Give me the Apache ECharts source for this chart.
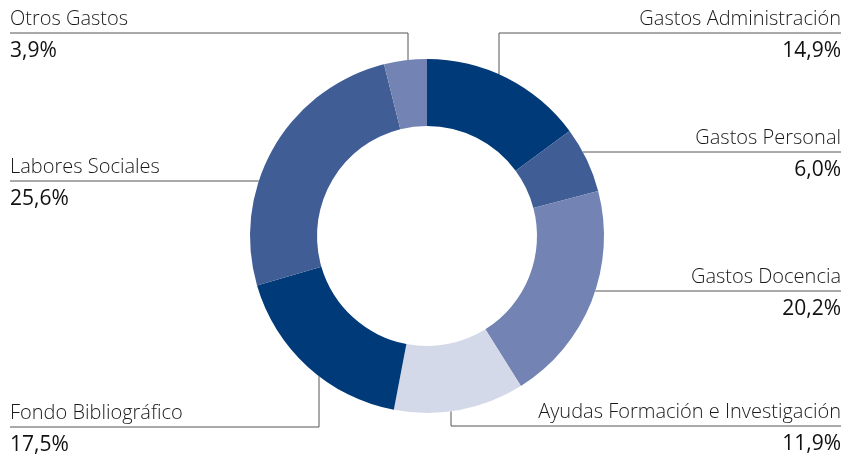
<!DOCTYPE html>
<html>
<head>
<meta charset="utf-8">
<script src="https://cdn.jsdelivr.net/npm/echarts@6/dist/echarts.min.js"></script>
<style>
  html, body { margin: 0; padding: 0; background: #fff; }
  #chart { width: 858px; height: 454px; }
</style>
</head>
<body>
<div id="chart"></div>
<script>
// Budget breakdown (percent of total), clockwise from 12 o'clock
const categories = [
  'Gastos Administración',
  'Gastos Personal',
  'Gastos Docencia',
  'Ayudas Formación e Investigación',
  'Fondo Bibliográfico',
  'Labores Sociales',
  'Otros Gastos'
];
const shares = [14.9, 6.0, 20.2, 11.9, 17.5, 25.6, 3.9];

// Slice fills
const palette = ['#003a78', '#405e95', '#7383b4', '#d4d9ea', '#003a78', '#405e95', '#7383b4'];

// Ring geometry
const CENTER = [427, 236];
const RADIUS = [110, 177];
const LEFT_EDGE = 10;
const RIGHT_EDGE = 841;

// Callout rows: which side the text sits on, the height of its rule,
// and (for callouts above/below the ring) where the rule drops to the slice
const callouts = [
  { side: 'right', rowY: 33, dropX: 499 },
  { side: 'right', rowY: 152 },
  { side: 'right', rowY: 291 },
  { side: 'right', rowY: 426, dropX: 451 },
  { side: 'left', rowY: 427, dropX: 319 },
  { side: 'left', rowY: 181 },
  { side: 'left', rowY: 33, dropX: 408 }
];

function fmt(v) {
  return v.toFixed(1).replace('.', ',') + '%';
}

const chart = echarts.init(document.getElementById('chart'), null, { renderer: 'canvas' });

chart.setOption({
  animation: false,
  backgroundColor: '#fff',
  series: [{
    type: 'pie',
    center: CENTER,
    radius: RADIUS,
    startAngle: 90,
    clockwise: true,
    avoidLabelOverlap: false,
    itemStyle: { borderWidth: 0 },
    data: categories.map((name, i) => ({
      name: name,
      value: shares[i],
      itemStyle: { color: palette[i] }
    })),
    label: {
      show: true,
      position: 'outside',
      formatter: p => '{n|' + p.name + '}\n{v|' + fmt(p.value) + '}',
      rich: {
        n: { fontFamily: 'Open Sans', fontSize: 20, fontWeight: 300, color: '#1a1a1a', lineHeight: 32 },
        v: { fontFamily: 'Open Sans', fontSize: 21, fontWeight: 400, color: '#111', lineHeight: 32 }
      }
    },
    labelLine: {
      show: true,
      length: 10,
      length2: 10,
      lineStyle: { color: '#555', width: 1 }
    },
    labelLayout: function (params) {
      const c = callouts[params.dataIndex];
      const r = RADIUS[1];
      const y = c.rowY;
      const edgeX = c.side === 'right' ? RIGHT_EDGE : LEFT_EDGE;
      let pts;
      if (c.dropX !== undefined) {
        const dy = Math.sqrt(r * r - Math.pow(c.dropX - CENTER[0], 2));
        const sy = y < CENTER[1] ? CENTER[1] - dy : CENTER[1] + dy;
        pts = [[c.dropX, sy], [c.dropX, y], [edgeX, y]];
      } else {
        const dx = Math.sqrt(r * r - Math.pow(y - CENTER[1], 2));
        const sx = c.side === 'right' ? CENTER[0] + dx : CENTER[0] - dx;
        pts = [[sx, y], [sx, y], [edgeX, y]];
      }
      return {
        x: edgeX,
        y: y + 2,
        align: c.side === 'right' ? 'right' : 'left',
        verticalAlign: 'middle',
        labelLinePoints: pts
      };
    }
  }]
});
</script>
</body>
</html>
